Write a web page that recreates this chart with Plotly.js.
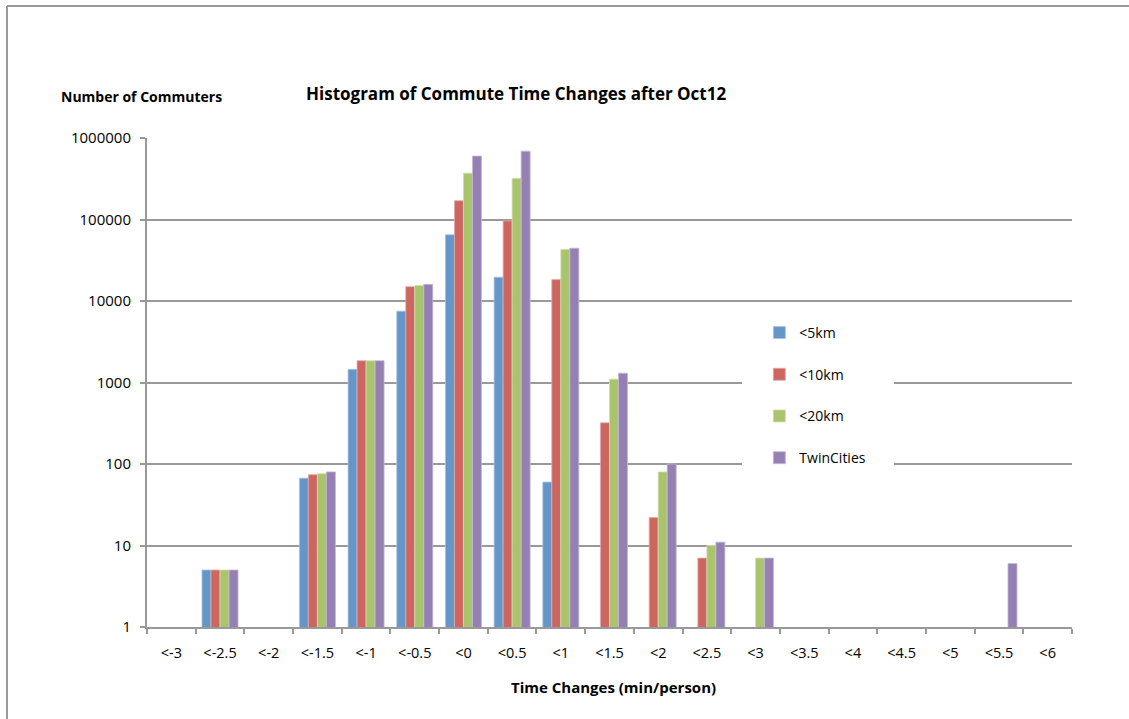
<!DOCTYPE html>
<html>
<head>
<meta charset="utf-8">
<script src="https://cdn.plot.ly/plotly-3.0.1.min.js"></script>
<style>html,body{margin:0;padding:0;background:#fff;}#chart{width:1129px;height:719px;}</style>
</head>
<body>
<div id="chart"></div>
<script>
const categories = ["<-3","<-2.5","<-2","<-1.5","<-1","<-0.5","<0","<0.5","<1","<1.5","<2","<2.5","<3","<3.5","<4","<4.5","<5","<5.5","<6"];
const seriesNames = ["<5km","<10km","<20km","TwinCities"];
const under5km     = [null,5,null,67,1450,7500,65000,19600,60,null,null,null,null,null,null,null,null,null,null];
const under10km    = [null,5,null,74,1850,15000,170000,96000,18300,320,22,7,null,null,null,null,null,null,null];
const under20km    = [null,5,null,76,1850,15500,370000,320000,43000,1100,80,10,7,null,null,null,null,null,null];
const twinCities   = [null,5,null,80,1850,16000,600000,690000,44500,1300,100,11,7,null,null,null,null,6,null];
const yTickVals = [1,10,100,1000,10000,100000,1000000];
const yTickText = ["1","10","100","1000","10000","100000","1000000"];
const colors = ["#6496C8","#CD6560","#A9C46C","#9580B3"];
const lineColors = ["#A9C3E2","#E3A9A6","#CFE0AE","#C4B8D8"];

const allSeries = [under5km, under10km, under20km, twinCities];
const FONT = "Open Sans, Liberation Sans, sans-serif";
const traces = allSeries.map((vals, i) => ({
  type: "bar",
  name: seriesNames[i],
  x: categories,
  y: vals,
  legendgroup: "g" + i,
  marker: {color: colors[i], line: {color: lineColors[i], width: 0.8}},
  hoverinfo: "x+y+name"
}));

const layout = {
  width: 1129, height: 719,
  margin: {l: 147, r: 57, t: 138, b: 92},
  paper_bgcolor: "#fff", plot_bgcolor: "#fff",
  font: {family: FONT, size: 14, color: "#000"},
  barmode: "group",
  bargap: 0.26,
  bargroupgap: 0,
  showlegend: true,
  legend: {
    x: 0.662, y: 0.634, xanchor: "left", yanchor: "top",
    bgcolor: "rgba(0,0,0,0)",
    font: {family: FONT, size: 14, color: "#000"},
    traceorder: "grouped",
    tracegroupgap: 20.5,
    itemwidth: 30
  },
  xaxis: {
    type: "category",
    categoryorder: "array", categoryarray: categories,
    tickson: "boundaries",
    ticks: "outside", ticklen: 5, tickcolor: "#999", tickwidth: 2,
    showline: true, linecolor: "#999", linewidth: 2,
    showgrid: false,
    tickfont: {family: FONT, size: 14.5, color: "#000"},
    ticklabelstandoff: 12,
    automargin: false,
    fixedrange: true
  },
  yaxis: {
    type: "log",
    range: [0, 6],
    tickvals: yTickVals, ticktext: yTickText,
    ticks: "outside", ticklen: 5, tickcolor: "#999", tickwidth: 2,
    showline: true, linecolor: "#999", linewidth: 2,
    showgrid: true, gridcolor: "#999", gridwidth: 2,
    zeroline: false,
    tickfont: {family: FONT, size: 15, color: "#000"},
    ticklabelstandoff: 6,
    automargin: false,
    fixedrange: true
  },
  annotations: [
    {text: "<b>Histogram of Commute Time Changes after Oct12</b>", xref: "paper", yref: "paper",
     x: (516-147)/925, y: (627-93)/489, xanchor: "center", yanchor: "middle", showarrow: false,
     font: {family: FONT, size: 17, color: "#000"}},
    {text: "<b>Number of Commuters</b>", xref: "paper", yref: "paper",
     x: (141-147)/925, y: (627-96)/489, xanchor: "center", yanchor: "middle", showarrow: false,
     font: {family: FONT, size: 14, color: "#000"}},
    {text: "<b>Time Changes (min/person)</b>", xref: "paper", yref: "paper",
     x: (613-147)/925, y: (627-687)/489, xanchor: "center", yanchor: "middle", showarrow: false,
     font: {family: FONT, size: 15, color: "#000"}}
  ],
  shapes: [
    {type: "rect", xref: "paper", yref: "paper", layer: "above",
     x0: (742-147)/925, x1: (894-147)/925, y0: (627-470)/489, y1: (627-312)/489,
     fillcolor: "#fff", line: {width: 0}},
    {type: "line", xref: "paper", yref: "paper",
     x0: (7-147)/925, x1: (1129-147)/925, y0: (627-6)/489, y1: (627-6)/489,
     line: {color: "#999", width: 2}},
    {type: "line", xref: "paper", yref: "paper",
     x0: (7-147)/925, x1: (7-147)/925, y0: (627-6)/489, y1: (627-719)/489,
     line: {color: "#999", width: 2}}
  ]
};

Plotly.newPlot("chart", traces, layout, {displayModeBar: false, staticPlot: true});
</script>
</body>
</html>
